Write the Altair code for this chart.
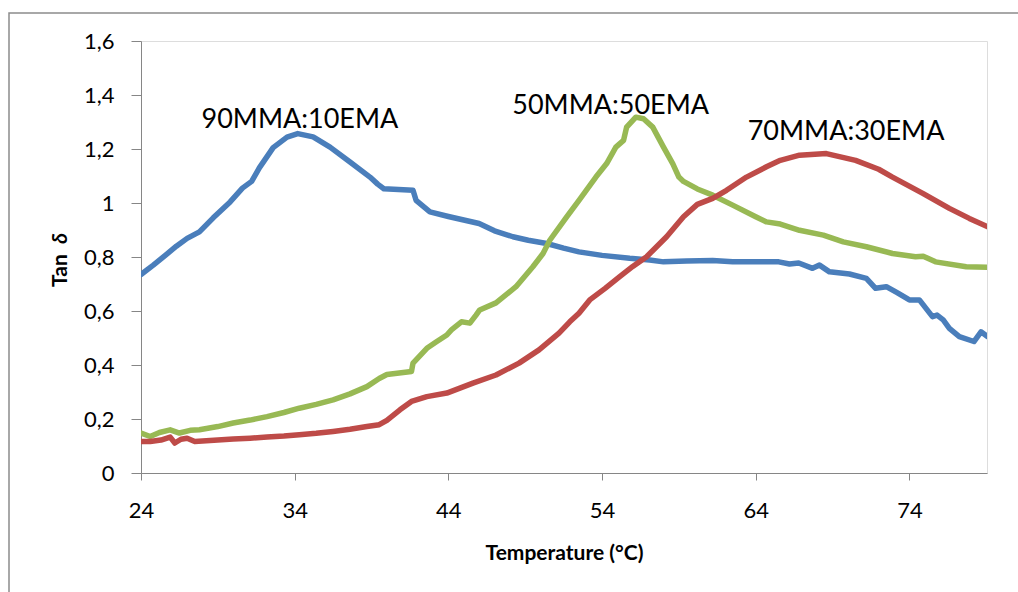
import altair as alt
import pandas as pd

# ---- data ----
blue_x = [24.0, 24.8, 25.6, 26.3, 27.0, 27.8, 28.7, 29.8, 30.6, 31.2, 31.7, 32.6, 33.5, 34.2, 35.2, 36.3,
          37.6, 38.9, 39.4, 39.8, 41.7, 41.9, 42.8, 44.0, 45.0, 46.0, 47.0, 48.2, 49.2, 50.4, 51.5, 52.5,
          54.0, 55.8, 57.1, 58.0, 59.5, 61.2, 62.5, 64.2, 65.5, 66.2, 66.8, 67.7, 68.15, 68.8, 70.1, 71.2,
          71.8, 72.5, 73.2, 74.0, 74.65, 75.5, 75.8, 76.2, 76.6, 77.25, 78.2, 78.66, 79.1]
blue_y = [0.735, 0.77, 0.807, 0.84, 0.869, 0.893, 0.945, 1.004, 1.055, 1.08, 1.13, 1.205, 1.244, 1.257, 1.245, 1.207,
          1.152, 1.096, 1.07, 1.053, 1.047, 1.01, 0.967, 0.95, 0.937, 0.924, 0.897, 0.875, 0.862, 0.850, 0.833, 0.819,
          0.806, 0.795, 0.789, 0.782, 0.785, 0.787, 0.782, 0.782, 0.782, 0.774, 0.778, 0.758, 0.770, 0.745, 0.737, 0.721,
          0.684, 0.690, 0.668, 0.641, 0.641, 0.579, 0.585, 0.567, 0.536, 0.505, 0.487, 0.523, 0.505]

green_x = [24.0, 24.6, 25.2, 25.9, 26.5, 27.2, 27.8, 29.0, 30.0, 31.1, 32.2, 33.3, 34.3, 35.4, 36.5, 37.6,
           38.7, 39.5, 40.0, 41.6, 41.7, 42.6, 43.2, 43.9, 44.2, 44.85, 45.4, 45.8, 46.04, 47.1, 48.4, 49.5,
           50.16, 50.6, 51.7, 52.5, 53.6, 54.3, 54.9, 55.4, 55.6, 56.2, 56.7, 57.3, 58.0, 58.6, 59.0, 59.3,
           60.2, 61.2, 62.5, 64.0, 64.7, 65.6, 66.85, 68.4, 69.7, 71.2, 72.9, 74.4, 74.9, 75.7, 77.7, 79.1]
green_y = [0.148, 0.135, 0.150, 0.160, 0.148, 0.158, 0.160, 0.172, 0.185, 0.196, 0.209, 0.224, 0.240, 0.254, 0.271, 0.293,
           0.320, 0.350, 0.365, 0.376, 0.407, 0.462, 0.485, 0.511, 0.530, 0.560, 0.555, 0.585, 0.604, 0.630, 0.690, 0.764,
           0.813, 0.862, 0.949, 1.010, 1.096, 1.146, 1.207, 1.232, 1.281, 1.318, 1.312, 1.281, 1.207, 1.146, 1.096, 1.080,
           1.052, 1.029, 0.992, 0.949, 0.930, 0.922, 0.899, 0.881, 0.856, 0.838, 0.813, 0.801, 0.803, 0.782, 0.764, 0.762]

red_x = [24.0, 24.6, 25.3, 25.9, 26.2, 26.6, 27.0, 27.5, 28.5, 30.0, 31.1, 32.2, 33.3, 34.3, 35.4, 36.5,
         37.6, 38.7, 39.5, 40.0, 40.85, 41.6, 42.6, 43.9, 45.6, 47.1, 48.6, 49.9, 51.2, 51.9, 52.5, 53.2,
         54.2, 55.15, 56.0, 56.9, 58.2, 59.3, 60.2, 61.2, 62.1, 63.4, 64.7, 65.6, 66.85, 68.6, 70.5, 72.0,
         72.9, 74.9, 76.6, 77.9, 79.1]
red_y = [0.117, 0.117, 0.122, 0.133, 0.111, 0.125, 0.129, 0.117, 0.120, 0.126, 0.129, 0.133, 0.137, 0.142, 0.147, 0.154,
         0.162, 0.172, 0.179, 0.195, 0.234, 0.265, 0.283, 0.296, 0.333, 0.363, 0.407, 0.456, 0.518, 0.560, 0.592, 0.641,
         0.684, 0.727, 0.765, 0.801, 0.875, 0.949, 0.995, 1.017, 1.047, 1.096, 1.134, 1.158, 1.177, 1.183, 1.158, 1.125,
         1.096, 1.035, 0.980, 0.943, 0.912]

series_names = ["90MMA:10EMA", "50MMA:50EMA", "70MMA:30EMA"]
series_colors = ["#4A7EBB", "#98B954", "#BE4B48"]

label_text = ["90MMA:10EMA", "50MMA:50EMA", "70MMA:30EMA"]
label_x = [34.34, 54.56, 69.88]
label_y = [1.277, 1.331, 1.232]

x_ticks = [24, 34, 44, 54, 64, 74]
y_ticks = [0, 0.2, 0.4, 0.6, 0.8, 1.0, 1.2, 1.4, 1.6]

rows = []
for name, xs, ys in zip(series_names, [blue_x, green_x, red_x], [blue_y, green_y, red_y]):
    for i, (a, b) in enumerate(zip(xs, ys)):
        rows.append({"series": name, "T": a, "tan": b, "order": i})
df = pd.DataFrame(rows)
labels = pd.DataFrame({"text": label_text, "T": label_x, "tan": label_y})

FONT = "Lato"
W, H = 846, 432

xscale = alt.Scale(domain=[24, 79.05], nice=False, zero=False)
yscale = alt.Scale(domain=[0, 1.6], nice=False)

lines = alt.Chart(df).mark_line(strokeWidth=5.5, clip=True, strokeJoin="round", strokeCap="round").encode(
    x=alt.X("T:Q", scale=xscale,
            axis=alt.Axis(values=x_ticks, title="Temperature (°C)", grid=False, labelFlush=False,
                          domainColor="#868686", tickColor="#868686", tickSize=7,
                          labelFont=FONT, labelFontSize=22, labelColor="black", labelPadding=20,
                          titleFont=FONT, titleFontSize=21, titleFontWeight="bold", titleColor="black",
                          titlePadding=21)),
    y=alt.Y("tan:Q", scale=yscale,
            axis=alt.Axis(values=y_ticks, title=None, grid=False, labelFlush=False,
                          labelExpr="replace(format(datum.value, '.1~f'), '.', ',')",
                          domainColor="#868686", tickColor="#868686", tickSize=10,
                          labelFont=FONT, labelFontSize=22, labelColor="black", labelPadding=17)),
    color=alt.Color("series:N", scale=alt.Scale(domain=series_names, range=series_colors), legend=None),
    order="order:Q",
)

texts = alt.Chart(labels).mark_text(font=FONT, fontSize=27, color="black", align="center",
                                    baseline="alphabetic").encode(
    x=alt.X("T:Q", scale=xscale), y=alt.Y("tan:Q", scale=yscale), text="text:N")

one = pd.DataFrame({"k": [0]})
tan_t = alt.Chart(one).mark_text(text="Tan", font=FONT, fontSize=21, fontWeight="bold", angle=270,
                                 align="left", baseline="alphabetic", color="black").encode(
    x=alt.value(-74), y=alt.value(246))
delta_t = alt.Chart(one).mark_text(text="δ", font=FONT, fontSize=21, fontWeight="bold", fontStyle="italic",
                                   angle=270, align="left", baseline="alphabetic", color="black").encode(
    x=alt.value(-74), y=alt.value(203))

border = alt.Chart(one).mark_rect(filled=False, stroke="#8C8C8C", strokeWidth=1.5).encode(
    x=alt.value(-132), y=alt.value(-28), x2=alt.value(1200), y2=alt.value(900))

chart = alt.layer(border, lines, texts, tan_t, delta_t).properties(
    width=W, height=H,
    autosize=alt.AutoSizeParams(type="none"),
    padding={"left": 141, "top": 41, "right": 31, "bottom": 119},
).configure_view(stroke="#D0D0D0", strokeWidth=1.5).configure(background="white")

chart.save("out.html", embed_options={"renderer": "svg", "actions": False})
